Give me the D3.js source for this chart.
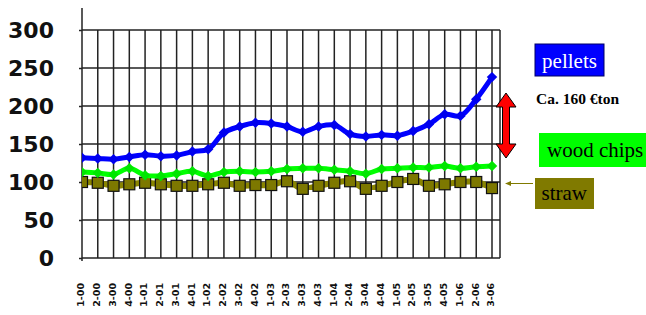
<!DOCTYPE html>
<html><head><meta charset="utf-8">
<script src="https://cdn.jsdelivr.net/npm/d3@7"></script>
<style>body{margin:0;background:#fff}svg{display:block}</style>
</head><body>
<svg id="c" width="646" height="315"></svg>
<script>
const categories = ["1-00","2-00","3-00","4-00","1-01","2-01","3-01","4-01","1-02","2-02","3-02","4-02","1-03","2-03","3-03","4-03","1-04","2-04","3-04","4-04","1-05","2-05","3-05","4-05","1-06","2-06","3-06"];
const pellets   = [132,131,130,133,136,134,135,140,143,165,173,178,177,173,166,173,175,163,160,162,161,167,176,189,187,209,238];
const woodChips = [113,112,110,118,109,108,111,114,108,113,114,113,114,117,118,118,116,114,111,117,118,119,119,121,118,120,121];
const straw     = [100,99,95,97,99,97,95,95,97,99,95,96,96,101,91,95,99,101,91,95,100,104,95,97,100,100,92];
const yTicks = [0,50,100,150,200,250,300];

const svg = d3.select("#c");
const x = d3.scalePoint().domain(categories).range([82, 492]);
const y = d3.scaleLinear().domain([0,300]).range([258, 30]);
const xRight = 500;

const defs = svg.append("defs");
defs.append("clipPath").attr("id","clip").append("rect").attr("x",82).attr("y",0).attr("width",430).attr("height",315);
const f = defs.append("filter").attr("id","soft").attr("x","-10%").attr("y","-10%").attr("width","120%").attr("height","120%");
f.append("feGaussianBlur").attr("stdDeviation",0.7);

// grid
const grid = svg.append("g").attr("stroke","#222").attr("stroke-width",1.5);
grid.selectAll(".h").data(yTicks.filter(t=>t>0)).join("line")
  .attr("x1",82).attr("x2",xRight).attr("y1",d=>y(d)).attr("y2",d=>y(d));
grid.selectAll(".v").data(categories.slice(1)).join("line")
  .attr("x1",d=>x(d)).attr("x2",d=>x(d)).attr("y1",y(300)).attr("y2",y(0));
grid.append("line").attr("x1",xRight).attr("x2",xRight).attr("y1",y(300)).attr("y2",y(0));
grid.append("line").attr("x1",82).attr("x2",xRight).attr("y1",y(0)).attr("y2",y(0));

// y axis
const yAxis = d3.axisLeft(y).tickValues(yTicks).tickSize(3).tickPadding(25).tickSizeOuter(0);
const ya = svg.append("g").attr("transform","translate(82,0)").call(yAxis);
ya.select(".domain").remove();
ya.selectAll(".tick line").attr("stroke","#222").attr("stroke-width",1.5);
ya.selectAll(".tick text").attr("font-family","DejaVu Sans").attr("font-weight","bold").attr("font-size",22).attr("fill","#111");
svg.append("line").attr("x1",82).attr("x2",82).attr("y1",8).attr("y2",261).attr("stroke","#222").attr("stroke-width",1.5);

// x labels
const xAxis = d3.axisBottom(x).tickSize(0).tickPadding(0);
const xa = svg.append("g").attr("transform","translate(0,283)").call(xAxis);
xa.select(".domain").remove();
xa.selectAll(".tick text")
  .attr("transform","rotate(-90)")
  .attr("text-anchor","end")
  .attr("x",0).attr("y",0).attr("dy","0.35em").attr("dx",0)
  .attr("font-family","DejaVu Sans").attr("font-weight","bold").attr("font-size",9.5).attr("fill","#111");
xa.selectAll(".tick").attr("transform",d=>`translate(${x(d)-1},0)`);

// series
const series = svg.append("g").attr("clip-path","url(#clip)");
const line = d3.line().x((d,i)=>x(categories[i])).y(d=>y(d)).curve(d3.curveCatmullRom.alpha(0.5));
const diamond = d3.symbol().type(d3.symbolDiamond2);

// straw
const sg = series.append("g");
sg.append("path").datum(straw).attr("d",line).attr("fill","none").attr("stroke","#8a8500").attr("stroke-width",6).attr("filter","url(#soft)");
sg.selectAll("rect").data(straw).join("rect")
  .attr("x",(d,i)=>x(categories[i])-5.5).attr("y",d=>y(d)-5.5).attr("width",11).attr("height",11)
  .attr("fill","#7d7800").attr("stroke","#111").attr("stroke-width",1.2);

// wood chips
const wg = series.append("g").attr("filter","url(#soft)");
wg.append("path").datum(woodChips).attr("d",line).attr("fill","none").attr("stroke","#00ff00").attr("stroke-width",5);
wg.selectAll("path.m").data(woodChips).join("path").attr("class","m")
  .attr("d",diamond.size(70)).attr("transform",(d,i)=>`translate(${x(categories[i])},${y(d)})`).attr("fill","#00e600");

// pellets
const pg = series.append("g").attr("filter","url(#soft)");
pg.append("path").datum(pellets).attr("d",line).attr("fill","none").attr("stroke","#0000ff").attr("stroke-width",5);
pg.selectAll("path.m").data(pellets).join("path").attr("class","m")
  .attr("d",diamond.size(70)).attr("transform",(d,i)=>`translate(${x(categories[i])},${y(d)})`).attr("fill","#0000ee");

// legend / annotations
const serif = "Liberation Serif";
svg.append("rect").attr("x",535).attr("y",44).attr("width",69).attr("height",32).attr("fill","#0000ff").attr("stroke","#000066").attr("stroke-width",1);
svg.append("text").attr("x",569.5).attr("y",68).attr("text-anchor","middle").attr("font-family",serif).attr("font-size",21).attr("fill","#fff").text("pellets");

svg.append("text").attr("x",536).attr("y",104).attr("font-family",serif).attr("font-weight","bold").attr("font-size",15.5).attr("fill","#000").text("Ca. 160 €ton");

// red double arrow
const ax = 506, aTop = 93, aBot = 158, hw = 10, sw = 3.5, hh = 14;
const arrowPts = [[ax,aTop],[ax+hw,aTop+hh],[ax+sw,aTop+hh],[ax+sw,aBot-hh],[ax+hw,aBot-hh],[ax,aBot],[ax-hw,aBot-hh],[ax-sw,aBot-hh],[ax-sw,aTop+hh],[ax-hw,aTop+hh]];
svg.append("path").attr("d",d3.line()(arrowPts)+"Z").attr("fill","#ff0000").attr("stroke","#000").attr("stroke-width",1);

svg.append("rect").attr("x",539).attr("y",133).attr("width",107).attr("height",34).attr("fill","#00ff00");
svg.append("text").attr("x",547).attr("y",157).attr("font-family",serif).attr("font-size",21).attr("fill","#000").text("wood chips");

svg.append("rect").attr("x",535).attr("y",178).attr("width",59).attr("height",31).attr("fill","#807a00");
svg.append("text").attr("x",541.5).attr("y",200).attr("font-family",serif).attr("font-size",21).attr("fill","#000").text("straw");

// small olive pointer
svg.append("line").attr("x1",533).attr("x2",510).attr("y1",183.5).attr("y2",183.5).attr("stroke","#807a00").attr("stroke-width",1);
svg.append("path").attr("d",d3.line()([[505,183.5],[511,181],[511,186]])+"Z").attr("fill","#807a00");
</script>
</body></html>
